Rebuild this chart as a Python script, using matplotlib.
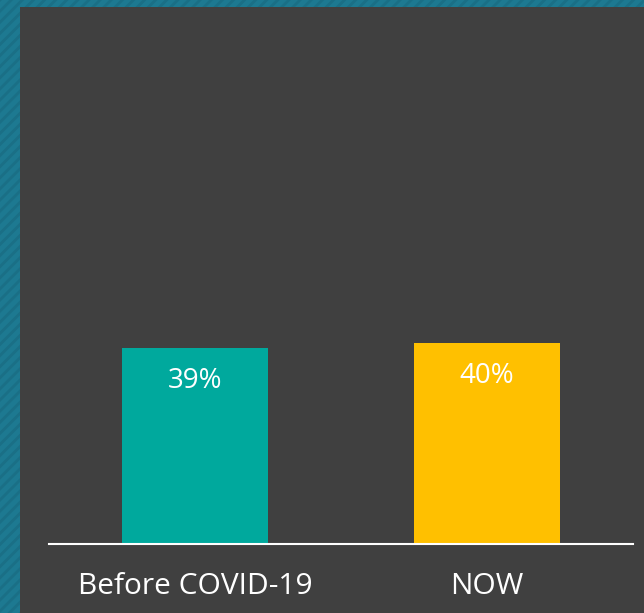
import matplotlib.pyplot as plt
from matplotlib.patches import Rectangle

# data
categories = ['Before COVID-19', 'NOW']
values = [39, 40]
labels = ['39%', '40%']
bar_colors = ['#00a99d', '#ffc000']

plt.rcParams['font.family'] = ['Open Sans', 'DejaVu Sans']
plt.rcParams['hatch.linewidth'] = 2.0

fig = plt.figure(figsize=(6.44, 6.13), dpi=100)
fig.patch.set_facecolor('#1d7991')

# striped teal frame + dark panel
fig.patches.append(Rectangle((0, 0), 1, 1, transform=fig.transFigure,
                             facecolor='#1d7991', edgecolor='#1a6f86',
                             hatch='///', linewidth=0, zorder=-2))
fig.patches.append(Rectangle((20 / 644, 0), 1, 1 - 7 / 613, transform=fig.transFigure,
                             facecolor='#404040', edgecolor='none', zorder=-1))

# axes: x 49..633 px, y bottom at 544 px
ax = fig.add_axes([49 / 644, (613 - 544) / 613, (633 - 49) / 644, (544 - 7) / 613])
ax.set_facecolor('none')

x = range(len(categories))
bars = ax.bar(x, values, width=0.5, color=bar_colors)
ax.set_xlim(-0.5, 1.5)
ax.set_ylim(0, 107)

for b, lab in zip(bars, labels):
    ax.annotate(lab, (b.get_x() + b.get_width() / 2, b.get_height()),
                xytext=(0, -13.5), textcoords='offset points',
                ha='center', va='top', color='white', fontsize=20)

ax.set_xticks(list(x))
ax.set_xticklabels(categories, color='white', fontsize=21.5)
ax.tick_params(axis='x', length=0, pad=20)
ax.set_yticks([])
for s in ['top', 'left', 'right']:
    ax.spines[s].set_visible(False)
ax.spines['bottom'].set_color('white')
ax.spines['bottom'].set_linewidth(1.5)

fig.savefig('out.png', dpi=100, facecolor=fig.get_facecolor())
